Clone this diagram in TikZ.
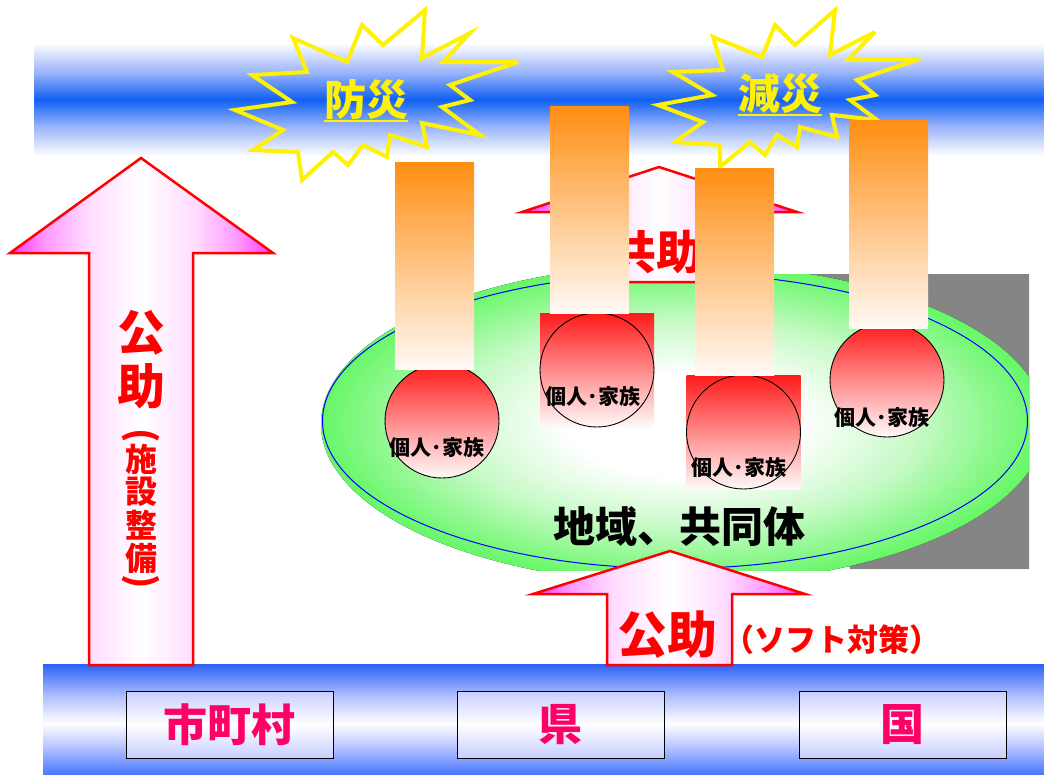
\documentclass[tikz,border=0pt]{standalone}
\usepackage{fontspec}
\newfontfamily\jp{Noto Sans CJK JP}[BoldFont={Noto Sans CJK JP Black}]
\usetikzlibrary{shapes.geometric}
\definecolor{bandblue}{HTML}{1060F5}
\definecolor{bandlight}{HTML}{9AB4FA}
\definecolor{topblue}{HTML}{2A62F5}
\definecolor{botblue}{HTML}{4A78FF}
\definecolor{lavA}{HTML}{B4C2FF}
\definecolor{mag}{HTML}{FF33FF}
\definecolor{pinkA}{HTML}{FF9CFF}
\definecolor{pinkB}{HTML}{FFDDFF}
\definecolor{elgreen}{HTML}{66F766}
\definecolor{elmid}{HTML}{C8FAC8}
\definecolor{orangetop}{HTML}{FF8E12}
\definecolor{barbottom}{HTML}{FFFAF6}
\definecolor{diskred}{HTML}{FF1A1A}
\definecolor{diskbottom}{HTML}{FFFAFA}
\definecolor{boxtext}{HTML}{FF0066}
\definecolor{boxlav}{HTML}{C8CEFF}
\definecolor{shadowgray}{HTML}{858585}
\pgfdeclareverticalshading{bandshade}{100bp}{color(0bp)=(white);color(25bp)=(white);color(38bp)=(bandlight);color(50bp)=(bandblue);color(62bp)=(bandlight);color(75bp)=(white);color(100bp)=(white)}
\pgfdeclareverticalshading{lowshade}{100bp}{color(0bp)=(botblue);color(25bp)=(botblue);color(37bp)=(lavA);color(48bp)=(white);color(60bp)=(lavA);color(75bp)=(topblue);color(100bp)=(topblue)}
\pgfdeclarehorizontalshading{arrowshade}{100bp}{color(0bp)=(mag);color(25bp)=(mag);color(32bp)=(pinkA);color(40bp)=(pinkB);color(50bp)=(white);color(60bp)=(pinkB);color(68bp)=(pinkA);color(75bp)=(mag);color(100bp)=(mag)}
\pgfdeclareradialshading{ellshade}{\pgfpoint{0bp}{0bp}}{color(0bp)=(white);color(8bp)=(white);color(16bp)=(elmid);color(25bp)=(elgreen);color(50bp)=(elgreen)}
\newcommand\fs[1]{\fontsize{#1}{#1}\selectfont}
\newcommand\thickul[1]{\setbox0\hbox{#1}\leavevmode\rlap{\raisebox{-7pt}{\rule{\wd0}{2.5pt}}}\box0}
\tikzset{
  burst/.style={draw=yellow, line width=4pt, line join=miter, miter limit=6},
  bursttext/.style={text=yellow, font=\jp\bfseries\fs{42}, inner sep=0pt},
  bigarrow/.style={draw=red, line width=2.5pt, line join=miter, shading=arrowshade},
  redtext/.style={text=red, font=\jp\bfseries\fs{#1}, inner sep=0pt},
  barbox/.style={rectangle, draw=none, minimum width=79pt, top color=orangetop, bottom color=barbottom, inner sep=0pt},
  famdisk/.style={circle, draw=black, line width=0.9pt, minimum size=114pt, inner sep=0pt, top color=diskred, bottom color=diskbottom},
  famback/.style={rectangle, draw=none, minimum width=114pt, minimum height=114pt, inner sep=0pt, top color=diskred, bottom color=diskbottom},
  famtext/.style={text=black, font=\jp\bfseries\fs{21}, inner sep=0pt},
  govbox/.style={rectangle, draw=black, line width=1pt, minimum width=207pt, minimum height=67pt, inner sep=0pt, top color=boxlav, bottom color=boxlav, middle color=white, text=boxtext, font=\jp\bfseries\fs{44}}
}
\begin{document}
\begin{tikzpicture}[x=1pt,y=-1pt]
\useasboundingbox (0,0) rectangle (1044,774);
% bands
\fill[shading=bandshade] (34,43) rectangle (1044,156);
\fill[shading=lowshade] (43,664) rectangle (1044,774);
% bursts
\draw[burst] (293,38) -- (347,62) -- (362,25) -- (383,45) -- (425,10) -- (422,58) -- (470,33) -- (443,62) -- (518,62) -- (450,85) -- (470,100) -- (442,107) -- (480,135) -- (422,123) -- (427,147) -- (390,135) -- (387,157) -- (363,145) -- (348,165) -- (333,152) -- (302,180) -- (298,152) -- (253,150) -- (283,130) -- (235,110) -- (292,102) -- (252,75) -- (307,72) -- cycle;
\node[bursttext] (bousai) at (366,101) {\thickul{防災}};
\draw[burst] (713,37) -- (762,57) -- (775,25) -- (795,45) -- (835,10) -- (830,55) -- (875,32) -- (848,60) -- (920,59) -- (857,80) -- (875,95) -- (850,100) -- (877,120) -- (832,115) -- (837,137) -- (800,127) -- (797,147) -- (777,135) -- (765,155) -- (750,142) -- (720,167) -- (720,145) -- (675,142) -- (703,122) -- (658,105) -- (712,95) -- (673,72) -- (723,70) -- cycle;
\node[bursttext] (gensai) at (780,95) {\thickul{減災}};
% community ellipse
\fill[shadowgray] (780,274) -- (1029,274) -- (1029,569) -- (850,569) -- cycle;
\begin{scope}
\clip (300,274) rectangle (1029,570);
\fill[shading=ellshade] (683,424) ellipse [x radius=362, y radius=160];
\end{scope}
\node[ellipse, draw=blue, line width=1pt, minimum width=705pt, minimum height=295pt, inner sep=0pt] (community) at (675,421) {};
% kyojo arrow
\filldraw[bigarrow] (659,167) -- (797,212) -- (714,212) -- (714,282) -- (604,282) -- (604,212) -- (522,212) -- cycle;
\node[redtext=46] (kyojo) at (656,252) {共助};
% family circles
\node[famback] (r2) at (597,370) {};
\node[famback] (r3) at (743.5,432) {};
\node[famdisk] (c1) at (442,421) {};
\node[famdisk] (c2) at (597,370) {};
\node[famdisk] (c3) at (743.5,432) {};
\node[famdisk] (c4) at (887,380) {};
% bars
\node[barbox, minimum height=207pt] (b1) at (434.5,265.5) {};
\node[barbox, minimum height=207pt] (b2) at (589.5,209.5) {};
\node[barbox, minimum height=207pt] (b3) at (734.5,271.5) {};
\node[barbox, minimum height=208pt] (b4) at (888.5,224) {};
\node[famtext] (t1) at (437,448) {個人･家族};
\node[famtext] (t2) at (593,397) {個人･家族};
\node[famtext] (t3) at (739,468) {個人･家族};
\node[famtext] (t4) at (882,418) {個人･家族};
\node[text=black, font=\jp\bfseries\fs{42}, inner sep=0pt] (chiiki) at (679,527) {地域、共同体};
% left arrow
\filldraw[bigarrow] (141,158) -- (273,253) -- (193,253) -- (193,665) -- (89,665) -- (89,253) -- (10,253) -- cycle;
\node[redtext=48] (k1) at (141,333) {公};
\node[redtext=48] (k2) at (141,386) {助};
\node[redtext=36] (p1) at (141,436) {\rotatebox{-90}{(}};
\node[redtext=32] (s1) at (141,459) {施};
\node[redtext=32] (s2) at (141,492) {設};
\node[redtext=32] (s3) at (141,525) {整};
\node[redtext=32] (s4) at (141,558) {備};
\node[redtext=36] (p2) at (141,582) {\rotatebox{-90}{)}};
% bottom arrow
\filldraw[bigarrow] (670,551) -- (805,594) -- (732,594) -- (732,665) -- (607,665) -- (607,594) -- (533,594) -- cycle;
\node[redtext=50] (kojo) at (667,635) {公助};
\node[redtext=31] (soft) at (832,640) {（ソフト対策）};
% government boxes
\node[govbox] (city) at (229.5,724.5) {市町村};
\node[govbox] (pref) at (560.5,724.5) {県};
\node[govbox] (nation) at (902.5,724.5) {国};
\end{tikzpicture}
\end{document}
